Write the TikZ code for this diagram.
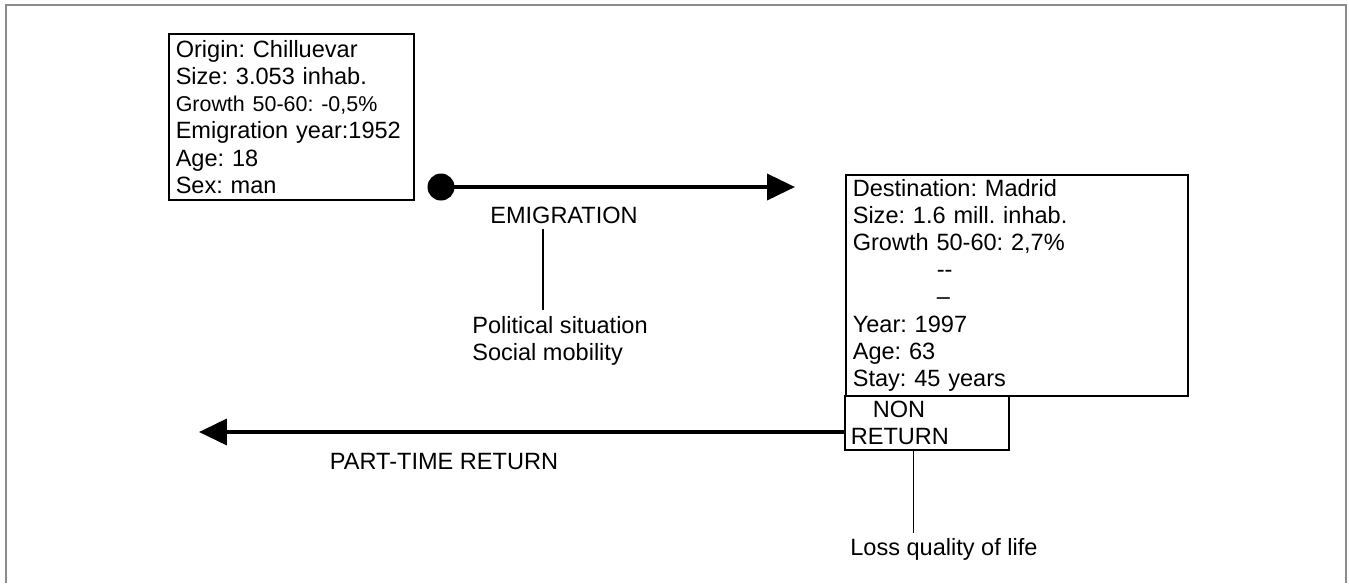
\documentclass[tikz,border=0pt]{standalone}
\usepackage{fontspec}
\setmainfont{Liberation Sans}
\usepackage{tikz}
\usetikzlibrary{arrows.meta, calc}
\frenchspacing

\begin{document}
\begin{tikzpicture}[x=0.02cm, y=-0.02cm,
    box/.style={draw, line width=0.9pt, align=left, inner xsep=0.14cm, inner ysep=0pt, font=\fontsize{13.4}{15.5}\selectfont},
    lbl/.style={inner sep=0pt, font=\fontsize{13.4}{15.5}\selectfont},
    flow/.style={line width=2.2pt, -{Triangle[length=0.56cm, width=0.52cm]}},
    tie/.style={line width=0.6pt},
    frame/.style={draw=black!45, line width=1.2pt}]

\useasboundingbox (0,0) rectangle (1349,583);
\draw[frame] (6,583) |- (1346,5) -- (1346,583);

%% origin
\node[box, anchor=north west, text width=4.62cm, minimum height=3.32cm] (origin) at (168,33)
    {Origin: Chilluevar\\Size: 3.053 inhab.\\{\fontsize{12.2}{15.5}\selectfont Growth 50-60: -0,5\%}\\Emigration year:1952\\Age: 18\\Sex: man};

%% destination
\node[box, anchor=north west, text width=6.56cm, minimum height=4.42cm] (dest) at (845,174)
    {Destination: Madrid\\Size: 1.6 mill. inhab.\\Growth 50-60: 2,7\%\\\hspace*{1.68cm}-{}-\\\hspace*{1.68cm}--\\Year: 1997\\Age: 63\\Stay: 45 years};
\node[box, anchor=north west, text width=3.04cm, minimum height=1.08cm, inner xsep=0.12cm] (nonret) at (844,395)
    {\hspace*{0.44cm}NON\\RETURN};

%% emigration
\node[circle, fill, inner sep=0pt, minimum size=0.54cm] (start) at (441,187) {};
\coordinate (arrive) at (795,187);
\draw[flow] (start.center) -- (arrive);
\node[lbl] (emig) at (564,215) {EMIGRATION};
\node[lbl, align=left, anchor=north west] (push) at (472,316) {Political situation\\Social mobility};
\draw[tie] ($(emig.south)+(-21,5)$) -- ($(emig.south |- push.north)+(-21,-6)$);

%% return
\coordinate (back) at (199,432);
\draw[flow] (back -| nonret.west) -- (back);
\node[lbl] (part) at (444,462) {PART-TIME RETURN};
\node[lbl, anchor=north west] (loss) at (850,538) {Loss quality of life};
\draw[tie] ($(nonret.south)+(-13,0)$) -- ($(nonret.south |- loss.north)+(-13,-5)$);

\end{tikzpicture}
\end{document}
